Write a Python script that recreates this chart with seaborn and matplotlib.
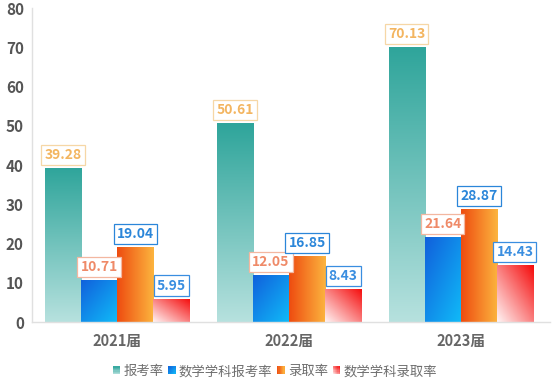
import numpy as np
import pandas as pd
import matplotlib
matplotlib.use('Agg')
import matplotlib.pyplot as plt
import seaborn as sns
from matplotlib.patches import Rectangle
from matplotlib.colors import to_rgb
from matplotlib.legend_handler import HandlerBase

years = ['2021届', '2022届', '2023届']
series = ['报考率', '数学学科报考率', '录取率', '数学学科录取率']
bk = [39.28, 50.61, 70.13]
sxbk = [10.71, 12.05, 21.64]
lq = [19.04, 16.85, 28.87]
sxlq = [5.95, 8.43, 14.43]
yticks = [0, 10, 20, 30, 40, 50, 60, 70, 80]

# gradient definitions: (color at u=0, color at u=1, mode)
grads = [
    ('#2fa59b', '#b6e1de', 'vert'),     # top -> bottom
    ('#1160dc', '#10bbf8', 'diag_tl'),  # top-left -> bottom-right
    ('#ee4c10', '#fcb43e', 'horiz'),    # left -> right
    ('#f50a0a', '#fff4f4', 'diag_tr'),  # top-right -> bottom-left
]
lab_txt = ['#f3b560', '#ef8a68', '#2b86d9', '#3a8ee0']
lab_edge = ['#f6d7a6', '#f3b7a0', '#2b86d9', '#3a8ee0']


def ufield(mode, n=64):
    x = np.linspace(0, 1, n)[None, :].repeat(n, 0)
    y = np.linspace(0, 1, n)[:, None].repeat(n, 1)  # row 0 bottom (origin lower)
    if mode == 'vert':
        return 1 - y
    if mode == 'horiz':
        return x
    if mode == 'diag_tl':
        return (x + (1 - y)) / 2
    return ((1 - x) + (1 - y)) / 2


def grad_img(c0, c1, mode, n=64):
    u = ufield(mode, n)[..., None]
    a = np.array(to_rgb(c0))[None, None, :]
    b = np.array(to_rgb(c1))[None, None, :]
    return a * (1 - u) + b * u


sns.set_theme(style='white')
plt.rcParams['font.family'] = ['Noto Sans CJK SC', 'DejaVu Sans']

fig = plt.figure(figsize=(5.54, 3.89), dpi=100)
ax = fig.add_axes([0.058, 0.172, 0.935, 0.807])

df = pd.DataFrame({
    'year': years * 4,
    'series': np.repeat(series, 3),
    'value': bk + sxbk + lq + sxlq,
})
sns.barplot(data=df, x='year', y='value', hue='series', hue_order=series,
            order=years, width=0.84, gap=0, ax=ax, legend=False,
            errorbar=None, saturation=1)

XL = (-0.495, 2.52)
ax.set_xlim(*XL)
ax.set_ylim(0, 80)

for i, cont in enumerate(ax.containers):
    c0, c1, mode = grads[i]
    img = grad_img(c0, c1, mode)
    for bar in cont:
        x0 = bar.get_x()
        w = bar.get_width()
        h = bar.get_height()
        bar.set_facecolor('none')
        bar.set_edgecolor('none')
        im = ax.imshow(img, extent=(x0, x0 + w, 0, h), origin='lower',
                       aspect='auto', interpolation='bilinear', zorder=2)
        im.set_clip_path(bar)
        ax.annotate(f'{h:.2f}', (x0 + w / 2, h), xytext=(0, 9.5),
                    textcoords='offset points', ha='center', va='center',
                    color=lab_txt[i], fontsize=10, fontweight='bold', zorder=5,
                    bbox=dict(boxstyle='square,pad=0.22', fc='white',
                              ec=lab_edge[i], lw=0.9))

ax.set_xlim(*XL)
ax.set_ylim(0, 80)
ax.set_yticks(yticks)
ax.set_yticklabels([str(t) for t in yticks])
ax.set_xlabel('')
ax.set_ylabel('')
ax.tick_params(axis='y', length=0, pad=6, labelsize=11, labelcolor='#555555')
ax.tick_params(axis='x', length=0, pad=8, labelsize=10.5, labelcolor='#666666')
for lab in ax.get_yticklabels() + ax.get_xticklabels():
    lab.set_fontweight('bold')
for s in ['top', 'right']:
    ax.spines[s].set_visible(False)
for s in ['left', 'bottom']:
    ax.spines[s].set_color('#e0e0e0')
    ax.spines[s].set_linewidth(1)
ax.grid(False)


class GradHandler(HandlerBase):
    def __init__(self, idx):
        super().__init__()
        self.idx = idx

    def create_artists(self, legend, orig_handle, xdescent, ydescent,
                       width, height, fontsize, trans):
        c0, c1, mode = grads[self.idx]
        n = 6
        arts = []
        sw = width
        sh = height
        ox = -xdescent
        oy = -ydescent
        for k in range(n):
            for m in range(n):
                xx = (k + 0.5) / n
                yy = (m + 0.5) / n
                if mode == 'vert':
                    u = 1 - yy
                elif mode == 'horiz':
                    u = xx
                elif mode == 'diag_tl':
                    u = (xx + 1 - yy) / 2
                else:
                    u = (1 - xx + 1 - yy) / 2
                col = np.array(to_rgb(c0)) * (1 - u) + np.array(to_rgb(c1)) * u
                r = Rectangle((ox + k * sw / n, oy + m * sh / n), sw / n * 1.05,
                              sh / n * 1.05, fc=col, ec='none', transform=trans)
                arts.append(r)
        return arts


handles = [Rectangle((0, 0), 1, 1) for _ in series]
leg = fig.legend(handles, series, loc='center', bbox_to_anchor=(0.496, 0.046),
                 ncol=4, frameon=False, fontsize=9.6, handlelength=0.55,
                 handleheight=0.55, handletextpad=0.25, columnspacing=0.35,
                 handler_map={h: GradHandler(i) for i, h in enumerate(handles)})
for t in leg.get_texts():
    t.set_color('#6e6e6e')

fig.savefig('out.png', dpi=100)
